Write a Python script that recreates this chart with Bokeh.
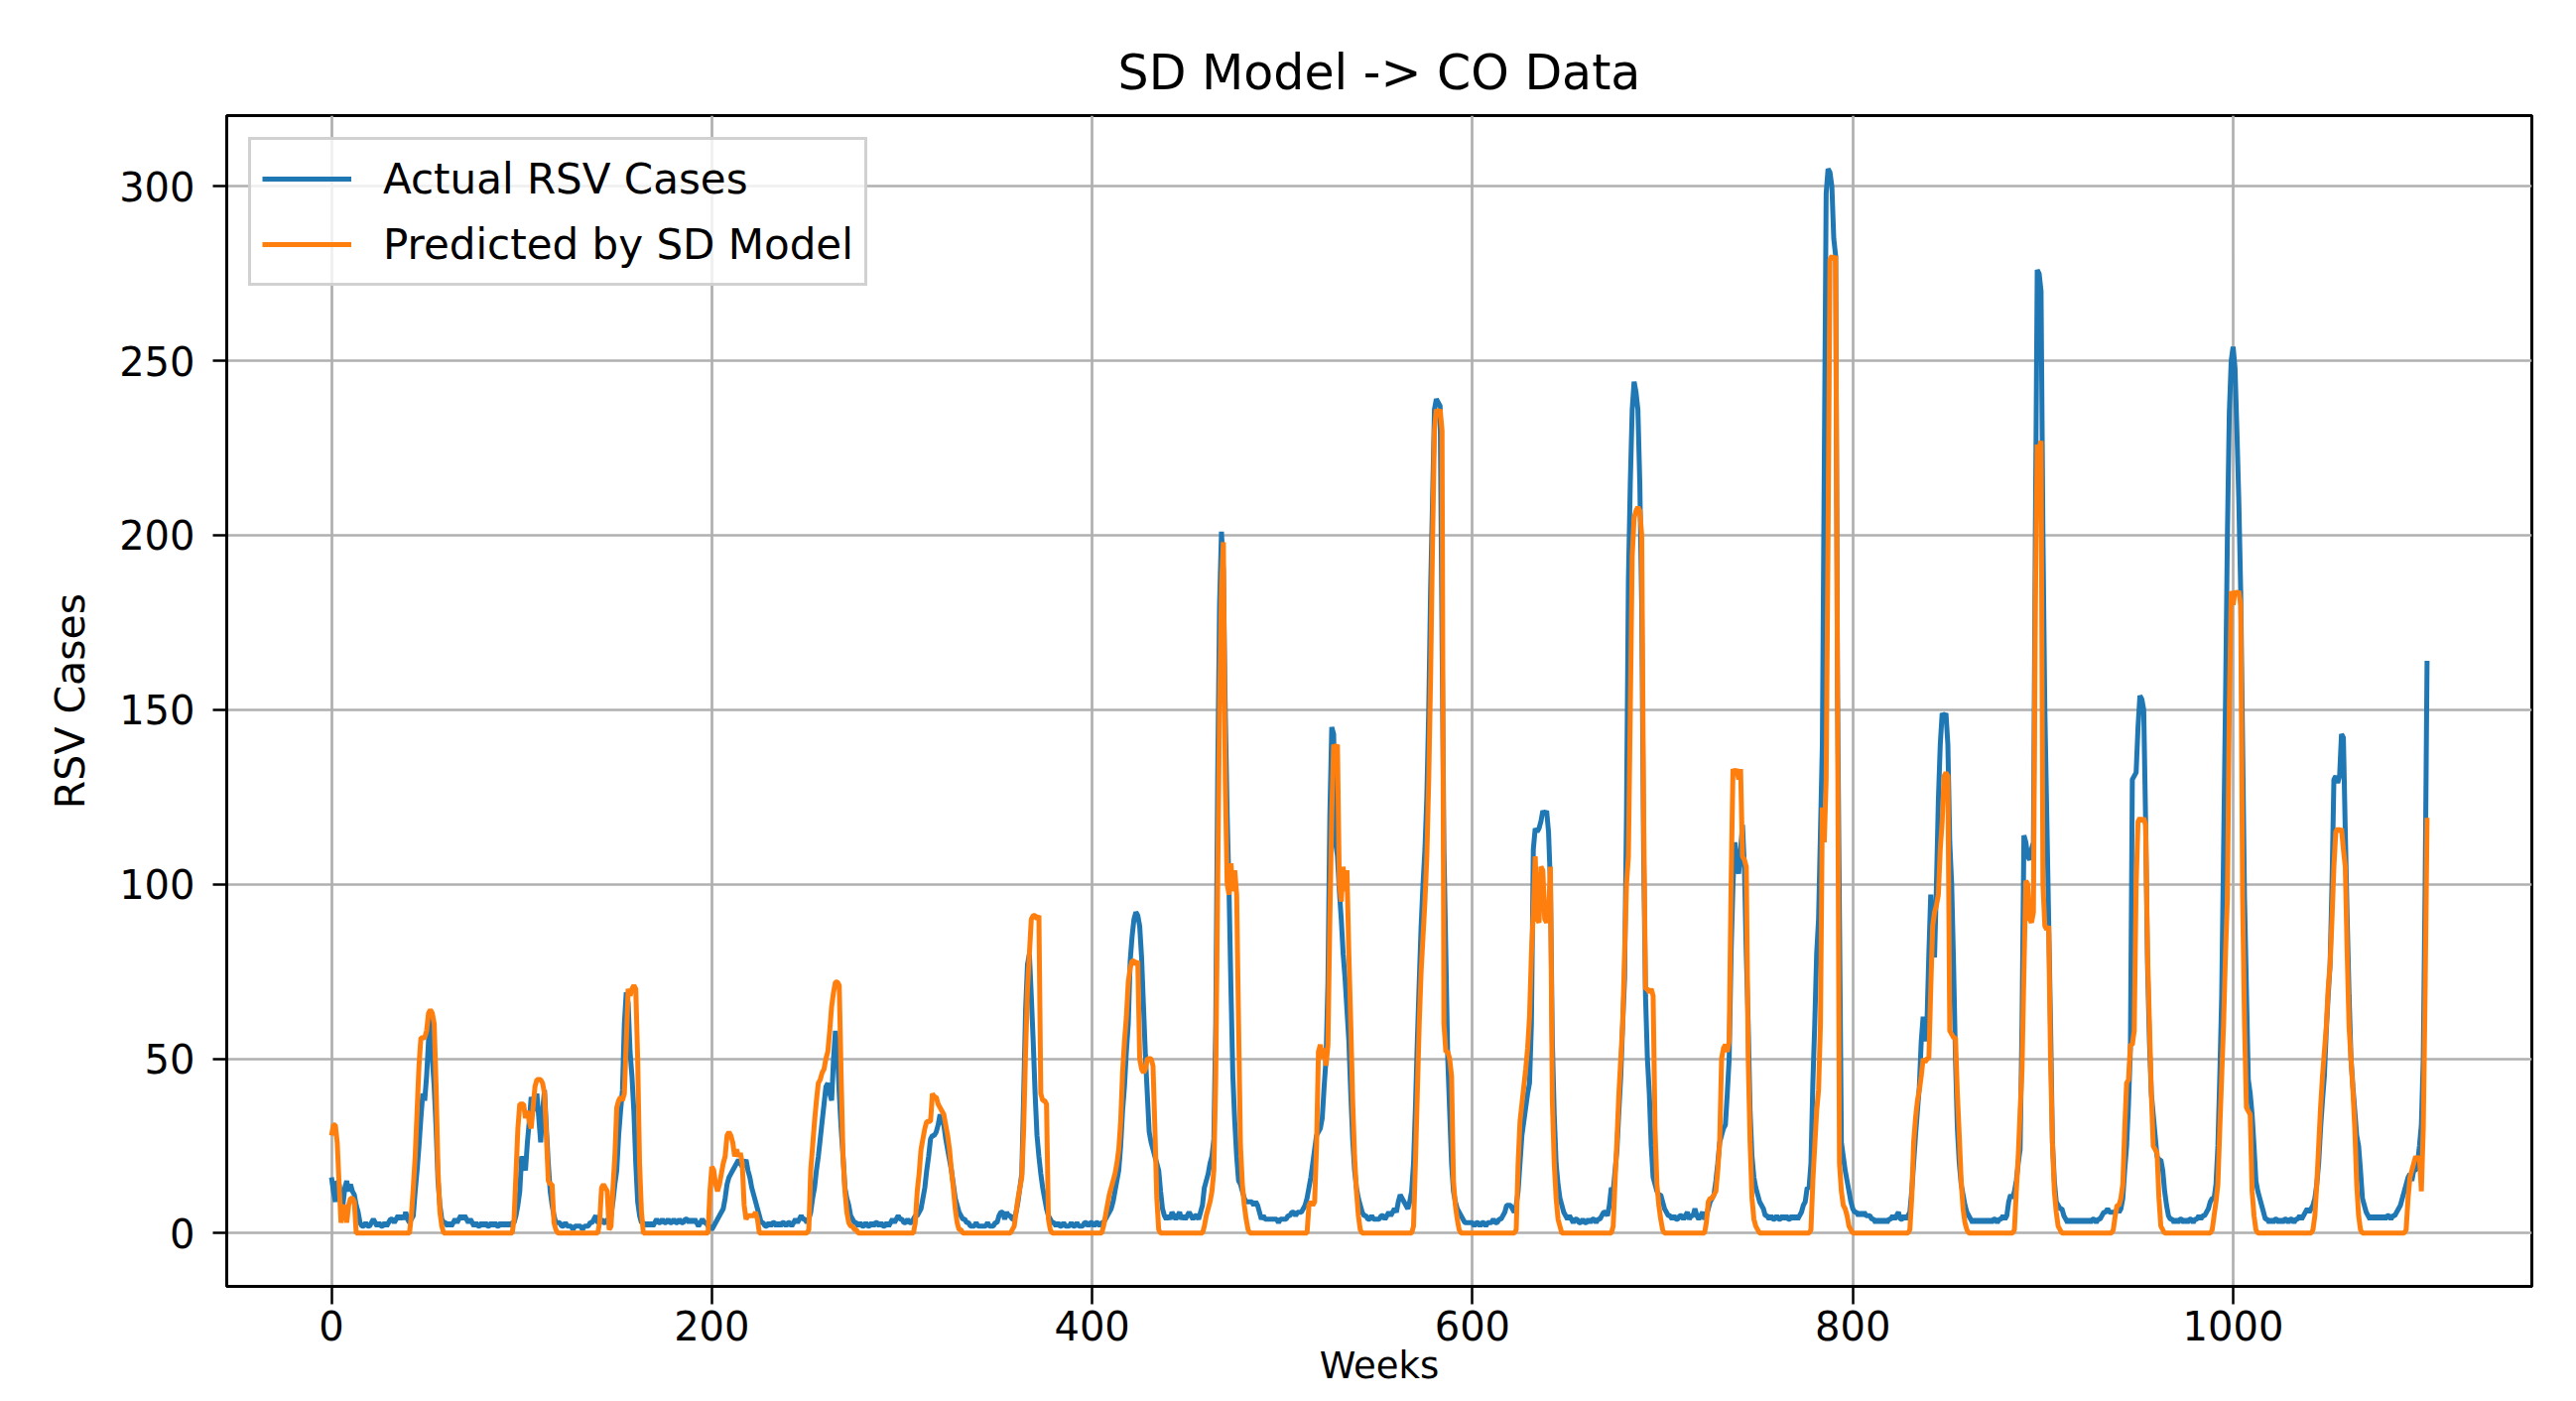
from bokeh.plotting import figure
from bokeh.models import Range1d, FixedTicker
from bokeh.embed import file_html
from bokeh.resources import INLINE

title_text = "SD Model -> CO Data"
x_label = "Weeks"
y_label = "RSV Cases"
series_names = ["Actual RSV Cases", "Predicted by SD Model"]
x_ticks = [0, 200, 400, 600, 800, 1000]
y_ticks = [0, 50, 100, 150, 200, 250, 300]

# weekly values, 10 weeks per row
actual_cases = [
    16, 12, 9, 15, 14, 10, 8, 13, 15, 12,
    14, 12, 11, 8, 6, 3, 2, 2, 3, 2,
    2, 3, 4, 3, 2, 3, 2, 2, 3, 2,
    3, 4, 4, 3, 4, 5, 4, 5, 4, 6,
    4, 3, 4, 5, 12, 18, 25, 33, 40, 38,
    45, 55, 62, 50, 42, 30, 15, 8, 4, 3,
    3, 2, 3, 2, 3, 4, 3, 4, 5, 4,
    5, 4, 3, 4, 3, 2, 3, 2, 2, 3,
    2, 3, 2, 2, 3, 2, 3, 2, 2, 3,
    2, 3, 2, 3, 2, 3, 3, 5, 8, 12,
    22, 20, 18, 26, 32, 39, 37, 35, 40, 33,
    26, 35, 41, 30, 20, 12, 8, 5, 3, 3,
    3, 2, 2, 3, 2, 2, 2, 1, 2, 2,
    2, 2, 1, 2, 2, 2, 3, 3, 4, 5,
    3, 3, 4, 3, 3, 4, 3, 5, 9, 14,
    18, 28, 35, 41, 60, 69, 66, 52, 45, 35,
    20, 9, 5, 3, 3, 2, 3, 2, 3, 2,
    3, 4, 3, 3, 4, 3, 3, 4, 3, 3,
    4, 3, 3, 4, 3, 3, 4, 4, 3, 4,
    3, 4, 3, 2, 3, 4, 3, 3, 2, 2,
    1, 2, 3, 4, 5, 6, 7, 10, 14, 16,
    17, 18, 19, 20, 21, 20, 19, 20, 21, 18,
    16, 13, 11, 9, 7, 5, 3, 3, 2, 2,
    3, 2, 3, 3, 2, 3, 2, 3, 3, 2,
    3, 3, 2, 3, 4, 3, 4, 5, 4, 4,
    3, 4, 6, 10, 13, 18, 22, 27, 32, 37,
    42, 43, 40, 38, 50, 58, 52, 40, 30, 22,
    13, 10, 8, 5, 4, 3, 3, 2, 3, 2,
    2, 3, 2, 2, 3, 2, 3, 3, 2, 3,
    2, 2, 3, 2, 3, 4, 3, 4, 5, 4,
    4, 3, 3, 4, 3, 3, 4, 5, 5, 6,
    7, 10, 13, 18, 22, 27, 28, 28, 29, 31,
    34, 32, 31, 27, 24, 21, 18, 14, 10, 8,
    6, 5, 4, 4, 3, 3, 2, 2, 2, 3,
    2, 2, 2, 2, 2, 3, 2, 2, 2, 3,
    3, 5, 6, 6, 4, 6, 5, 5, 4, 4,
    6, 9, 13, 17, 40, 64, 77, 80, 68, 55,
    40, 28, 22, 17, 13, 10, 7, 5, 4, 3,
    3, 2, 3, 2, 2, 3, 2, 2, 2, 3,
    2, 2, 3, 2, 2, 2, 3, 3, 2, 3,
    3, 2, 3, 3, 2, 3, 3, 4, 5, 6,
    7, 9, 12, 15, 18, 25, 35, 42, 52, 60,
    78, 85, 90, 92, 91, 88, 79, 65, 51, 40,
    29, 26, 24, 22, 20, 18, 12, 7, 5, 4,
    5, 4, 6, 5, 4, 5, 6, 4, 5, 4,
    5, 6, 5, 4, 5, 5, 4, 6, 8, 13,
    15, 17, 20, 22, 27, 60, 130, 180, 201, 190,
    150, 120, 98, 70, 45, 32, 22, 15, 14, 12,
    10, 9, 9, 9, 9, 8, 9, 8, 6, 4,
    5, 4, 4, 4, 4, 4, 4, 4, 3, 4,
    4, 4, 4, 5, 5, 6, 6, 5, 6, 6,
    6, 7, 8, 10, 13, 16, 20, 24, 28, 29,
    30, 33, 42, 50, 72, 120, 145, 143, 112, 108,
    98, 90, 80, 73, 64, 55, 40, 27, 18, 13,
    10, 8, 6, 5, 5, 4, 4, 5, 4, 4,
    4, 4, 5, 5, 4, 5, 6, 5, 6, 7,
    6, 9, 11, 10, 9, 8, 7, 9, 12, 20,
    36, 55, 72, 88, 100, 110, 125, 150, 185, 210,
    236, 239, 238, 237, 170, 110, 80, 50, 35, 20,
    12, 9, 7, 6, 5, 4, 3, 3, 3, 3,
    3, 2, 3, 3, 2, 3, 3, 2, 3, 3,
    3, 4, 3, 3, 4, 4, 5, 6, 8, 8,
    8, 7, 6, 8, 12, 20, 28, 32, 36, 40,
    43, 60, 110, 116, 115, 116, 118, 121, 120, 121,
    115, 100, 55, 34, 20, 14, 10, 8, 6, 5,
    4, 5, 4, 3, 4, 4, 3, 3, 4, 3,
    3, 4, 3, 4, 4, 3, 4, 4, 5, 6,
    6, 5, 8, 13, 12, 18, 24, 35, 45, 60,
    73, 120, 187, 215, 236, 244, 241, 236, 215, 180,
    110, 68, 50, 40, 25, 16, 14, 12, 11, 11,
    9, 7, 6, 5, 5, 4, 5, 4, 4, 5,
    5, 4, 5, 6, 4, 5, 5, 7, 5, 4,
    5, 6, 4, 5, 7, 9, 10, 11, 15, 20,
    26, 28, 30, 31, 40, 50, 80, 100, 112, 106,
    103, 110, 117, 105, 80, 60, 35, 22, 16, 13,
    11, 9, 8, 7, 5, 5, 4, 5, 4, 4,
    5, 4, 4, 5, 4, 5, 4, 4, 5, 4,
    5, 4, 5, 6, 8, 9, 13, 13, 20, 43,
    60, 80, 90, 115, 140, 219, 298, 305, 304, 300,
    285, 280, 154, 90, 26, 22, 18, 15, 12, 9,
    7, 6, 6, 5, 6, 5, 6, 5, 5, 5,
    4, 4, 3, 4, 3, 4, 3, 4, 3, 4,
    4, 5, 4, 5, 6, 4, 4, 5, 4, 5,
    6, 12, 20, 28, 35, 42, 55, 62, 55, 60,
    80, 97, 85, 79, 100, 124, 140, 149, 148, 149,
    140, 112, 100, 77, 50, 30, 20, 14, 11, 8,
    6, 5, 4, 3, 4, 3, 4, 3, 4, 3,
    4, 3, 4, 3, 4, 4, 3, 4, 4, 5,
    4, 5, 9, 11, 10, 12, 15, 20, 24, 60,
    114, 112, 108, 107, 110, 112, 200, 276, 275, 270,
    200, 150, 120, 90, 60, 26, 15, 9, 8, 7,
    7, 5, 4, 3, 4, 3, 4, 3, 4, 3,
    4, 3, 4, 3, 4, 3, 4, 4, 3, 4,
    4, 5, 6, 6, 7, 6, 6, 6, 6, 7,
    6, 7, 10, 18, 25, 37, 53, 130, 131, 132,
    145, 154, 153, 150, 118, 77, 55, 40, 34, 28,
    22, 21, 21, 18, 12, 8, 5, 4, 4, 3,
    4, 3, 4, 4, 3, 4, 3, 4, 4, 3,
    4, 4, 5, 4, 5, 5, 6, 7, 9, 10,
    10, 14, 25, 45, 68, 110, 152, 200, 235, 250,
    254, 248, 230, 210, 184, 140, 96, 70, 44, 40,
    34, 25, 15, 12, 10, 8, 6, 4, 4, 3,
    4, 3, 4, 4, 3, 4, 3, 4, 4, 3,
    4, 4, 3, 4, 4, 5, 4, 5, 6, 7,
    6, 7, 8, 10, 14, 20, 30, 38, 45, 58,
    68, 77, 100, 130, 131, 129, 131, 143, 142, 115,
    90, 68, 50, 42, 35, 28, 25, 18, 10, 8,
    6, 5, 4, 5, 4, 5, 4, 5, 4, 5,
    4, 5, 5, 4, 5, 5, 6, 7, 8, 10,
    12, 14, 16, 17, 15, 18, 18, 20, 25, 31,
    50, 100, 164,
]

predicted_cases = [
    28, 31, 31, 26, 14, 3, 7, 8, 3, 8,
    10, 10, 9, 0, 0, 0, 0, 0, 0, 0,
    0, 0, 0, 0, 0, 0, 0, 0, 0, 0,
    0, 0, 0, 0, 0, 0, 0, 0, 0, 0,
    0, 0, 5, 13, 22, 35, 48, 56, 56, 56,
    58, 63, 64, 63, 60, 42, 18, 6, 2, 0,
    0, 0, 0, 0, 0, 0, 0, 0, 0, 0,
    0, 0, 0, 0, 0, 0, 0, 0, 0, 0,
    0, 0, 0, 0, 0, 0, 0, 0, 0, 0,
    0, 0, 0, 0, 0, 0, 4, 17, 30, 37,
    37, 37, 33, 35, 32, 30, 36, 42, 44, 44,
    44, 43, 40, 28, 15, 14, 14, 3, 1, 0,
    0, 0, 0, 0, 0, 0, 0, 0, 0, 0,
    0, 0, 0, 0, 0, 0, 0, 0, 0, 0,
    0, 3, 13, 14, 13, 12, 1, 2, 13, 22,
    36, 38, 39, 38, 40, 55, 70, 68, 70, 71,
    70, 50, 20, 6, 0, 0, 0, 0, 0, 0,
    0, 0, 0, 0, 0, 0, 0, 0, 0, 0,
    0, 0, 0, 0, 0, 0, 0, 0, 0, 0,
    0, 0, 0, 0, 0, 0, 0, 0, 0, 12,
    19, 18, 14, 12, 14, 17, 20, 22, 28, 29,
    28, 26, 22, 24, 22, 23, 20, 8, 4, 5,
    5, 5, 5, 6, 4, 0, 0, 0, 0, 0,
    0, 0, 0, 0, 0, 0, 0, 0, 0, 0,
    0, 0, 0, 0, 0, 0, 0, 0, 0, 0,
    0, 1, 18, 25, 32, 38, 43, 44, 46, 47,
    50, 52, 58, 65, 69, 72, 72, 71, 45, 22,
    12, 6, 3, 2, 2, 1, 1, 0, 0, 0,
    0, 0, 0, 0, 0, 0, 0, 0, 0, 0,
    0, 0, 0, 0, 0, 0, 0, 0, 0, 0,
    0, 0, 0, 0, 0, 0, 0, 3, 12, 17,
    24, 27, 30, 32, 32, 32, 40, 39, 39, 37,
    36, 35, 34, 31, 28, 24, 18, 13, 7, 3,
    1, 1, 0, 0, 0, 0, 0, 0, 0, 0,
    0, 0, 0, 0, 0, 0, 0, 0, 0, 0,
    0, 0, 0, 0, 0, 0, 0, 0, 1, 2,
    6, 10, 13, 16, 30, 52, 70, 80, 90, 91,
    91, 90, 91, 40, 38, 38, 37, 4, 1, 0,
    0, 0, 0, 0, 0, 0, 0, 0, 0, 0,
    0, 0, 0, 0, 0, 0, 0, 0, 0, 0,
    0, 0, 0, 0, 0, 0, 2, 5, 8, 11,
    13, 15, 17, 20, 24, 32, 46, 55, 62, 72,
    76, 78, 78, 77, 78, 50, 47, 46, 47, 50,
    50, 50, 48, 30, 10, 1, 0, 0, 0, 0,
    0, 0, 0, 0, 0, 0, 0, 0, 0, 0,
    0, 0, 0, 0, 0, 0, 0, 0, 0, 2,
    5, 7, 9, 12, 18, 45, 100, 150, 185, 198,
    130, 100, 97, 106, 98, 104, 97, 60, 25, 14,
    8, 4, 1, 0, 0, 0, 0, 0, 0, 0,
    0, 0, 0, 0, 0, 0, 0, 0, 0, 0,
    0, 0, 0, 0, 0, 0, 0, 0, 0, 0,
    0, 0, 0, 0, 8, 9, 8, 9, 25, 52,
    54, 50, 53, 48, 54, 90, 120, 140, 139, 140,
    100, 95, 105, 98, 104, 80, 60, 38, 22, 12,
    5, 1, 0, 0, 0, 0, 0, 0, 0, 0,
    0, 0, 0, 0, 0, 0, 0, 0, 0, 0,
    0, 0, 0, 0, 0, 0, 0, 0, 0, 2,
    20, 40, 60, 75, 85, 95, 108, 130, 160, 198,
    230, 236, 235, 236, 230, 60, 52, 52, 50, 45,
    15, 8, 4, 1, 0, 0, 0, 0, 0, 0,
    0, 0, 0, 0, 0, 0, 0, 0, 0, 0,
    0, 0, 0, 0, 0, 0, 0, 0, 0, 0,
    0, 0, 0, 1, 20, 32, 37, 42, 47, 53,
    62, 80, 92, 108, 90, 89, 105, 104, 90, 89,
    92, 105, 38, 20, 10, 4, 2, 0, 0, 0,
    0, 0, 0, 0, 0, 0, 0, 0, 0, 0,
    0, 0, 0, 0, 0, 0, 0, 0, 0, 0,
    0, 0, 0, 0, 2, 15, 27, 40, 50, 60,
    80, 100, 108, 150, 194, 205, 207, 208, 207, 200,
    120, 70, 70, 69, 70, 68, 30, 14, 8, 4,
    1, 0, 0, 0, 0, 0, 0, 0, 0, 0,
    0, 0, 0, 0, 0, 0, 0, 0, 0, 0,
    0, 0, 0, 3, 9, 10, 10, 11, 12, 18,
    26, 50, 53, 54, 52, 55, 100, 133, 132, 133,
    130, 133, 108, 107, 105, 50, 26, 10, 4, 2,
    1, 0, 0, 0, 0, 0, 0, 0, 0, 0,
    0, 0, 0, 0, 0, 0, 0, 0, 0, 0,
    0, 0, 0, 0, 0, 0, 0, 0, 1, 15,
    25, 35, 41, 60, 122, 112, 130, 200, 279, 280,
    279, 280, 150, 20, 12, 8, 7, 5, 2, 1,
    0, 0, 0, 0, 0, 0, 0, 0, 0, 0,
    0, 0, 0, 0, 0, 0, 0, 0, 0, 0,
    0, 0, 0, 0, 0, 0, 0, 0, 0, 0,
    1, 10, 26, 33, 38, 41, 45, 50, 49, 50,
    50, 70, 88, 92, 94, 97, 110, 118, 131, 132,
    131, 58, 57, 56, 56, 40, 28, 15, 7, 3,
    1, 0, 0, 0, 0, 0, 0, 0, 0, 0,
    0, 0, 0, 0, 0, 0, 0, 0, 0, 0,
    0, 0, 0, 0, 0, 1, 12, 22, 35, 47,
    75, 101, 100, 90, 89, 92, 180, 226, 225, 227,
    100, 88, 87, 88, 50, 26, 12, 6, 2, 1,
    0, 0, 0, 0, 0, 0, 0, 0, 0, 0,
    0, 0, 0, 0, 0, 0, 0, 0, 0, 0,
    0, 0, 0, 0, 0, 0, 0, 1, 5, 8,
    8, 10, 14, 30, 43, 44, 54, 54, 58, 100,
    118, 119, 118, 119, 117, 80, 60, 40, 25, 24,
    23, 10, 2, 1, 0, 0, 0, 0, 0, 0,
    0, 0, 0, 0, 0, 0, 0, 0, 0, 0,
    0, 0, 0, 0, 0, 0, 0, 0, 0, 1,
    5, 9, 14, 30, 45, 60, 80, 96, 150, 184,
    180, 184, 183, 184, 180, 96, 60, 36, 35, 34,
    12, 5, 1, 0, 0, 0, 0, 0, 0, 0,
    0, 0, 0, 0, 0, 0, 0, 0, 0, 0,
    0, 0, 0, 0, 0, 0, 0, 0, 0, 0,
    0, 0, 1, 5, 14, 25, 36, 45, 52, 59,
    70, 77, 90, 105, 115, 116, 115, 116, 110, 105,
    80, 59, 50, 41, 30, 14, 5, 1, 0, 0,
    0, 0, 0, 0, 0, 0, 0, 0, 0, 0,
    0, 0, 0, 0, 0, 0, 0, 0, 0, 0,
    0, 1, 10, 16, 18, 20, 22, 21, 22, 12,
    30, 70, 119,
]

weeks = list(range(len(actual_cases)))

# matplotlib-like 5% margins
x_span = weeks[-1] - weeks[0]
x_lo, x_hi = weeks[0] - 0.05 * x_span, weeks[-1] + 0.05 * x_span
all_vals = actual_cases + predicted_cases
y_span = max(all_vals) - min(all_vals)
y_lo, y_hi = min(all_vals) - 0.05 * y_span, max(all_vals) + 0.05 * y_span

FONT = "DejaVu Sans"

p = figure(width=2588, height=1404, output_backend="svg", toolbar_location=None,
           x_range=Range1d(x_lo, x_hi), y_range=Range1d(y_lo, y_hi),
           min_border_left=228, min_border_right=37,
           min_border_top=116, min_border_bottom=108,
           background_fill_color="white", border_fill_color="white")

p.title.text = title_text
p.title.align = "center"
p.title.text_font = FONT
p.title.text_font_size = "49px"
p.title.text_font_style = "normal"
p.title.text_color = "black"
p.title.standoff = 30

p.line(weeks, actual_cases, line_color="#1f77b4", line_width=5,
       legend_label=series_names[0])
p.line(weeks, predicted_cases, line_color="#ff7f0e", line_width=5,
       legend_label=series_names[1])

p.xaxis.ticker = FixedTicker(ticks=x_ticks)
p.yaxis.ticker = FixedTicker(ticks=y_ticks)
p.grid.grid_line_color = "#b0b0b0"
p.grid.grid_line_width = 2.7

p.axis.minor_tick_line_color = None
p.axis.major_tick_in = 0
p.xaxis.major_tick_out = 18
p.yaxis.major_tick_out = 14
p.axis.major_tick_line_width = 2.5
p.axis.major_tick_line_color = "black"
p.axis.axis_line_color = "black"
p.axis.axis_line_width = 3
p.axis.major_label_text_font = FONT
p.axis.major_label_text_font_size = "40px"
p.axis.major_label_text_color = "black"
p.xaxis.major_label_standoff = 6
p.yaxis.major_label_standoff = 18

p.xaxis.axis_label = x_label
p.yaxis.axis_label = y_label
p.axis.axis_label_text_font = FONT
p.axis.axis_label_text_font_style = "normal"
p.axis.axis_label_text_color = "black"
p.xaxis.axis_label_text_font_size = "37px"
p.xaxis.axis_label_standoff = 1
p.yaxis.axis_label_text_font_size = "41px"
p.yaxis.axis_label_standoff = 22

p.outline_line_color = "black"
p.outline_line_width = 3

lg = p.legend[0]
lg.location = "top_left"
lg.margin = 22
lg.padding = 11
lg.spacing = 10
lg.glyph_width = 90
lg.glyph_height = 56
lg.label_height = 56
lg.label_standoff = 32
lg.label_text_font = FONT
lg.label_text_font_size = "42px"
lg.label_text_color = "black"
lg.border_line_color = "#cccccc"
lg.border_line_width = 3
lg.border_line_alpha = 0.9
lg.background_fill_color = "white"
lg.background_fill_alpha = 0.8

open("out.html", "w").write(file_html(p, INLINE))
